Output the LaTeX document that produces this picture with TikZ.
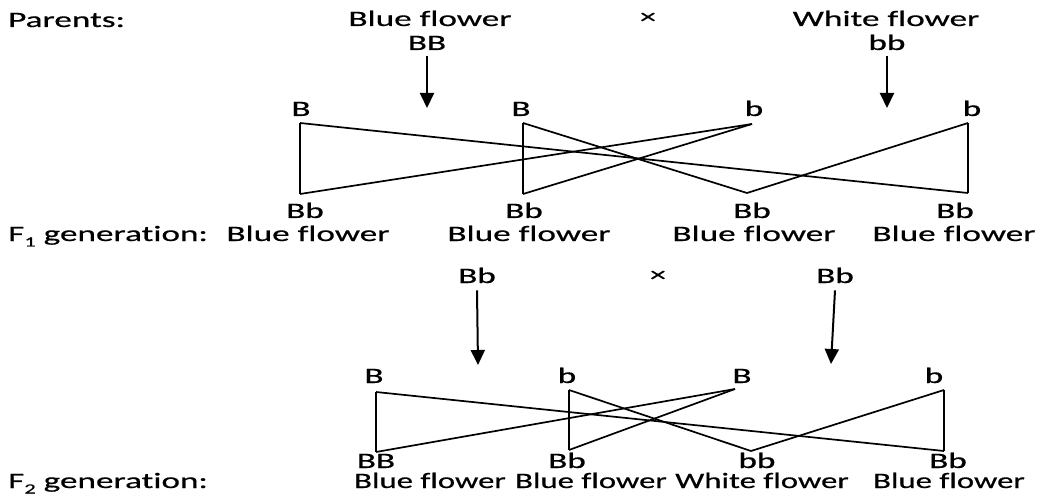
\documentclass[tikz,border=0pt]{standalone}
\usepackage{fontspec}
\setmainfont[FakeStretch=1.6, FakeBold=0.6, Ligatures=NoCommon]{Carlito}
\usetikzlibrary{arrows.meta}
\newcommand{\subnum}[1]{\raisebox{-0.25em}{\fontsize{14}{14}\selectfont #1}}
\newcommand{\narrow}[1]{\scalebox{0.93}[1]{#1}}
\begin{document}
\begin{tikzpicture}[x=1pt,y=-1pt,
  txt/.style={font=\fontsize{22}{24}\selectfont, inner sep=0pt, anchor=base},
  lbl/.style={txt, anchor=base west},
  crs/.style={font=\fontsize{20}{20}\selectfont, inner sep=0pt, anchor=center},
  tri/.style={line width=1.7pt, line join=miter},
  vert/.style={line width=2.6pt},
  arr/.style={line width=2pt, -{Triangle[width=14pt,length=15pt]}}]
\useasboundingbox (0,0) rectangle (1044,497);

% ---------- Parents ----------
\node[lbl] (parents) at (8,27) {Parents:};
\node[txt] (pblue) at (430,26) {Blue flower};
\node[txt] (pBB) at (427,50) {BB};
\node[crs] (cross1) at (648,18) {×};
\node[txt] (pwhite) at (886,26) {White flower};
\node[txt] (pbb) at (887,50) {bb};
\coordinate (a1e) at (427,108);
\coordinate (a2e) at (887,108);
\draw[arr] ([yshift=-6pt]pBB.south) -- (a1e);
\draw[arr] ([yshift=-6pt]pbb.south) -- (a2e);

% gametes
\node[txt] (g1) at (301,116) {B};
\node[txt] (g2) at (521,116) {B};
\node[txt] (g3) at (754,116) {b};
\node[txt] (g4) at (972,116) {b};

\coordinate (t1) at (300,123);
\coordinate (t2) at (523,123);
\coordinate (t3) at (752,124);
\coordinate (t4) at (968,123);
\coordinate (b1) at (300,194);
\coordinate (b2) at (523,194);
\coordinate (b3) at (747,193);
\coordinate (b4) at (968,193);
\draw[vert] (t1) -- (b1);
\draw[vert] (t2) -- (b2);
\draw[vert] (t4) -- (b4);
\draw[tri] (t1) -- (b4);
\draw[tri] (b1) -- (t3);
\draw[tri] (t2) -- (b3);
\draw[tri] (b2) -- (t3);
\draw[tri] (b3) -- (t4);

% F1
\node[txt] (f1g1) at (305,218) {Bb};
\node[txt] (f1g2) at (524,218) {Bb};
\node[txt] (f1g3) at (752,218) {Bb};
\node[txt] (f1g4) at (955,218) {Bb};
\node[lbl] (f1lab) at (8,241) {F\subnum{1} generation:};
\node[txt] (f1p1) at (308,241) {Blue flower};
\node[txt] (f1p2) at (529,241) {Blue flower};
\node[txt] (f1p3) at (754,241) {Blue flower};
\node[txt] (f1p4) at (954,241) {Blue flower};

% ---------- F1 cross ----------
\node[txt] (q1) at (477,283) {Bb};
\node[crs] (cross2) at (658,276) {×};
\node[txt] (q2) at (835,283) {Bb};
\coordinate (a3e) at (478,365);
\coordinate (a4e) at (831,364);
\draw[arr] ([yshift=-7pt]q1.south) -- (a3e);
\draw[arr] ([yshift=-7pt]q2.south) -- (a4e);

\node[txt] (h1) at (374,383) {B};
\node[txt] (h2) at (567,383) {b};
\node[txt] (h3) at (742,383) {B};
\node[txt] (h4) at (934,383) {b};

\coordinate (u1) at (376,392);
\coordinate (u2) at (569,390);
\coordinate (u3) at (735,389);
\coordinate (u4) at (944,390);
\coordinate (v1) at (376,452);
\coordinate (v2) at (569,450);
\coordinate (v3) at (751,451);
\coordinate (v4) at (944,451);
\draw[vert] (u1) -- (v1);
\draw[vert] (u2) -- (v2);
\draw[vert] (u4) -- (v4);
\draw[tri] (u1) -- (v4);
\draw[tri] (v1) -- (u3);
\draw[tri] (u2) -- (v3);
\draw[tri] (v2) -- (u3);
\draw[tri] (v3) -- (u4);

% F2
\node[txt] (f2g1) at (376,468) {BB};
\node[txt] (f2g2) at (567,468) {Bb};
\node[txt] (f2g3) at (757,468) {bb};
\node[txt] (f2g4) at (948,468) {Bb};
\node[lbl] (f2lab) at (8,488) {F\subnum{2} generation:};
\node[txt] (f2p1) at (430,488) {\narrow{Blue flower}};
\node[txt] (f2p2) at (591,488) {\narrow{Blue flower}};
\node[txt] (f2p3) at (762,488) {\narrow{White flower}};
\node[txt] (f2p4) at (949,488) {\narrow{Blue flower}};
\end{tikzpicture}
\end{document}
